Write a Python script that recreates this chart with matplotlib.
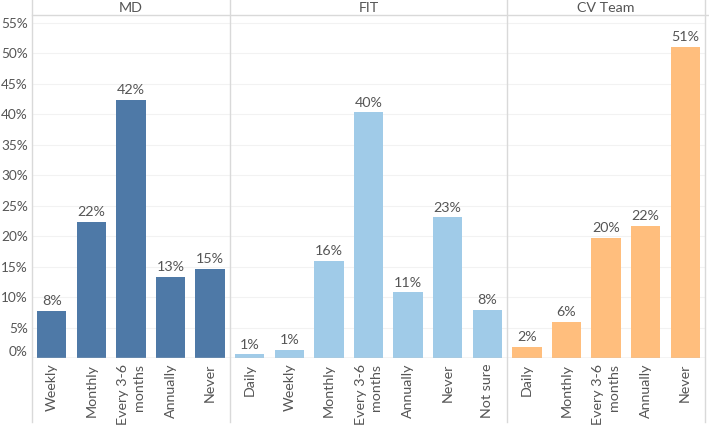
import matplotlib.pyplot as plt
from matplotlib.lines import Line2D

# survey answers per team, in percent
md_labels = ["Weekly", "Monthly", "Every 3-6\nmonths", "Annually", "Never"]
md_values = [7.7, 22.3, 42.3, 13.3, 14.6]

fit_labels = ["Daily", "Weekly", "Monthly", "Every 3-6\nmonths", "Annually", "Never", "Not sure"]
fit_values = [0.6, 1.3, 15.9, 40.3, 10.8, 23.1, 7.9]

cv_labels = ["Daily", "Monthly", "Every 3-6\nmonths", "Annually", "Never"]
cv_values = [1.8, 5.9, 19.7, 21.7, 51.0]

teams = ["MD", "FIT", "CV Team"]
colors = ["#4e79a7", "#a0cbe8", "#ffbe7d"]
yticks = [0, 5, 10, 15, 20, 25, 30, 35, 40, 45, 50, 55]

txt = "#555555"
fs = 10.3
plt.rcParams['font.family'] = ['Lato', 'DejaVu Sans']

W, H = 709, 426
fig = plt.figure(figsize=(W / 100, H / 100), dpi=100)
left, right, top, bottom = 32 / W, 705 / W, 1 - 16 / H, 1 - 358 / H
gs = fig.add_gridspec(1, 3, width_ratios=[5, 7, 5], wspace=0,
                      left=left, right=right, top=top, bottom=bottom)

panels = [(md_labels, md_values), (fit_labels, fit_values), (cv_labels, cv_values)]
axes = []
for i, (labs, vals) in enumerate(panels):
    ax = fig.add_subplot(gs[0, i])
    axes.append(ax)
    x = list(range(len(labs)))
    bars = ax.bar(x, vals, width=0.74, color=colors[i], zorder=3)
    for b, v in zip(bars, vals):
        ax.text(b.get_x() + b.get_width() / 2, v + 0.6, "%d%%" % round(v),
                ha="center", va="bottom", fontsize=fs, color=txt, zorder=4)
    ax.set_xlim(-0.5, len(labs) - 0.5)
    ax.set_ylim(0, 56.1)
    ax.set_xticks(x)
    ax.set_xticklabels(labs, rotation=90, fontsize=fs, color=txt,
                       multialignment="right", linespacing=1.35)
    ax.tick_params(axis="x", length=0, pad=4)
    ax.set_yticks(yticks)
    for yv in yticks[1:]:
        ax.axhline(yv, color="#f2f2f2", lw=0.8, zorder=1)
    ax.axhline(0, color="#c8c8c8", lw=1.0, zorder=5)
    for s in ax.spines.values():
        s.set_visible(False)
    if i == 0:
        ax.set_yticklabels(["%d%%" % t for t in yticks], fontsize=9.8, color=txt)
        ax.tick_params(axis="y", length=0, pad=3)
        ax.get_yticklabels()[0].set_va("bottom")
    else:
        ax.tick_params(axis="y", length=0, labelleft=False)

    # panel header
    pos = ax.get_position()
    fig.text((pos.x0 + pos.x1) / 2, 1 - 8 / H, teams[i], ha="center", va="center",
             fontsize=fs, color=txt)

# header line and panel separators
fig.add_artist(Line2D([left, 1], [1 - 15 / H, 1 - 15 / H], color="#d9d9d9", lw=1.0))
for xp in [left, axes[1].get_position().x0, axes[2].get_position().x0, right]:
    fig.add_artist(Line2D([xp, xp], [4 / H, 1], color="#d9d9d9", lw=1.0))

fig.savefig("out.png", dpi=100)
